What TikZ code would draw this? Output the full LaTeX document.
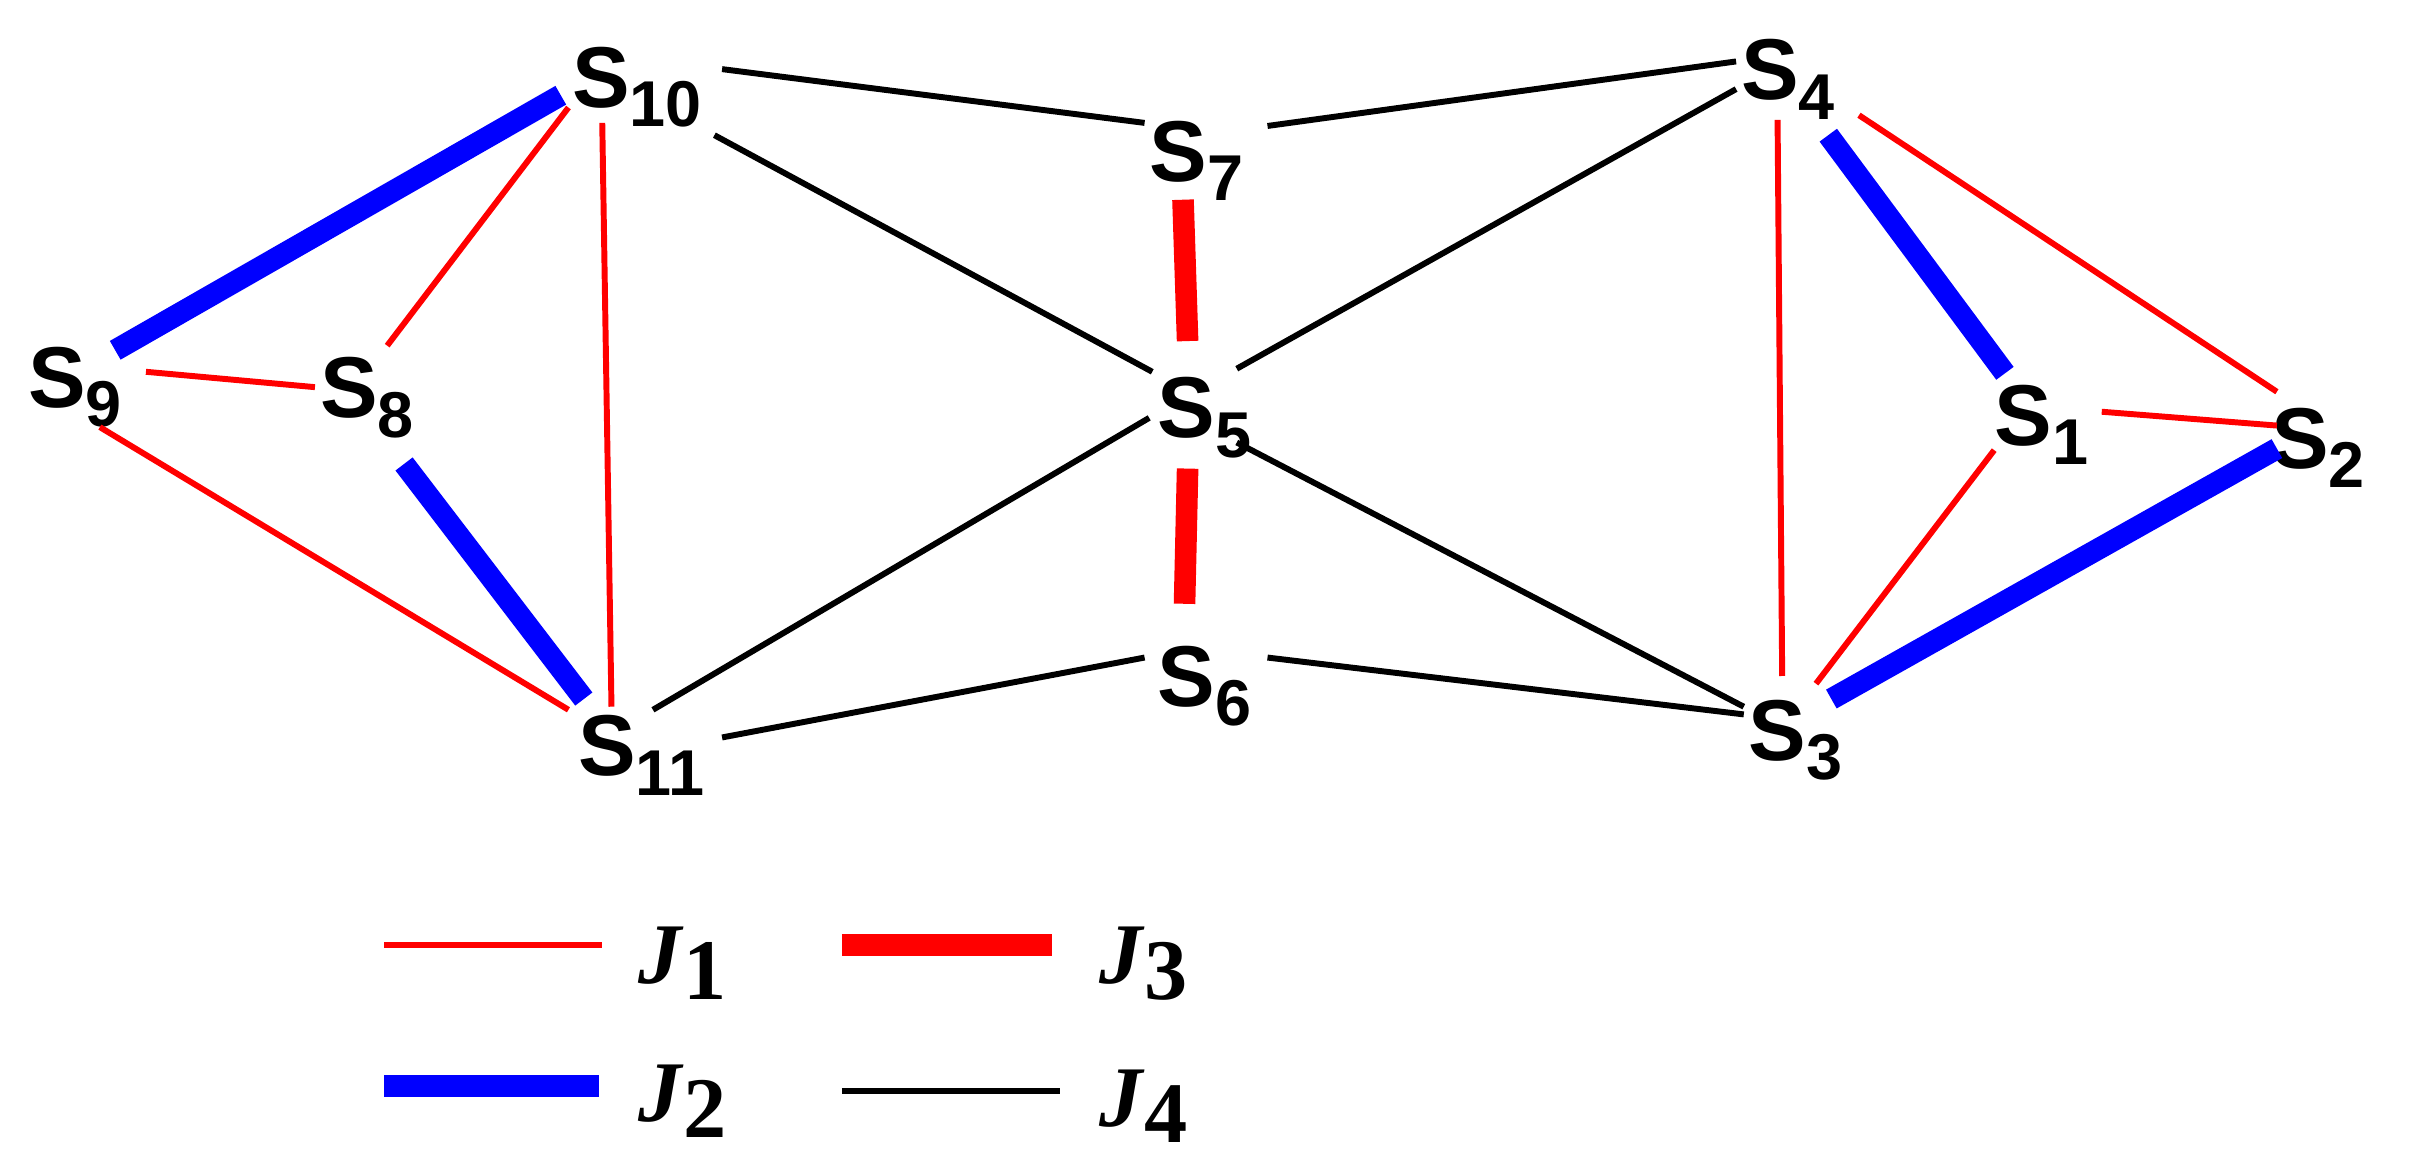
\documentclass[tikz,border=0pt]{standalone}
\usepackage{fontspec}
\setmainfont{Liberation Sans}
\newfontfamily\jfont{Liberation Serif}
\begin{document}
\begin{tikzpicture}[x=0.02cm,y=-0.02cm,
  lbl/.style={anchor=base west,inner sep=0pt,font=\fontsize{32}{34}\selectfont\bfseries},
  jl/.style={anchor=base west,inner sep=0pt,font=\fontsize{32}{34}\selectfont\jfont\bfseries},
  jone/.style={red,line width=2.2pt},
  jtwo/.style={blue,line width=8pt},
  jthree/.style={red,line width=8pt},
  jfour/.style={black,line width=2.2pt}]
\fill[white] (0,0) rectangle (1568,756);
\newcommand{\lab}[4]{\node[lbl] (#1) at (#2,#3) {S\raisebox{-0.42ex}{\fontsize{24}{26}\selectfont #4}};}
\lab{s10}{372}{70}{10}
\lab{s7}{748}{118}{7}
\lab{s4}{1133}{65}{4}
\lab{s9}{18}{265}{9}
\lab{s8}{208}{272}{8}
\lab{s5}{753}{285}{5}
\lab{s1}{1298}{290}{1}
\lab{s2}{1478}{305}{2}
\lab{s11}{376}{505}{11}
\lab{s6}{753}{460}{6}
\lab{s3}{1138}{495}{3}
% black
\draw[jfour] (470,45)--(745,80);
\draw[jfour] (825,82)--(1130,40);
\draw[jfour] (465,88)--(750,242);
\draw[jfour] (1130,58)--(805,240);
\draw[jfour] (748,272)--(425,462);
\draw[jfour] (805,288)--(1135,460);
\draw[jfour] (470,480)--(745,428);
\draw[jfour] (825,428)--(1135,465);
% red thick
\draw[jthree] (770,130)--(773,222);
\draw[jthree] (773,305)--(771,393);
% left
\draw[jtwo] (365,62)--(75,228);
\draw[jone] (370,70)--(252,225);
\draw[jone] (392,80)--(398,460);
\draw[jone] (95,242)--(205,252);
\draw[jone] (65,278)--(370,462);
\draw[jtwo] (263,302)--(380,455);
% right
\draw[jone] (1157,78)--(1160,440);
\draw[jtwo] (1190,88)--(1305,243);
\draw[jone] (1210,75)--(1482,255);
\draw[jone] (1368,268)--(1482,277);
\draw[jone] (1298,293)--(1182,445);
\draw[jtwo] (1482,292)--(1192,455);
% legend
\draw[jone] (250,615)--(392,615);
\node[jl] (j1) at (415,640) {\textit{J}\raisebox{-0.4ex}{1}};
\draw[jthree] (548,615)--(685,615);
\node[jl] (j3) at (715,640) {\textit{J}\raisebox{-0.4ex}{3}};
\draw[jtwo] (250,707)--(390,707);
\node[jl] (j2) at (415,730) {\textit{J}\raisebox{-0.4ex}{2}};
\draw[jfour] (548,710)--(690,710);
\node[jl] (j4) at (715,733) {\textit{J}\raisebox{-0.4ex}{4}};
\end{tikzpicture}
\end{document}
